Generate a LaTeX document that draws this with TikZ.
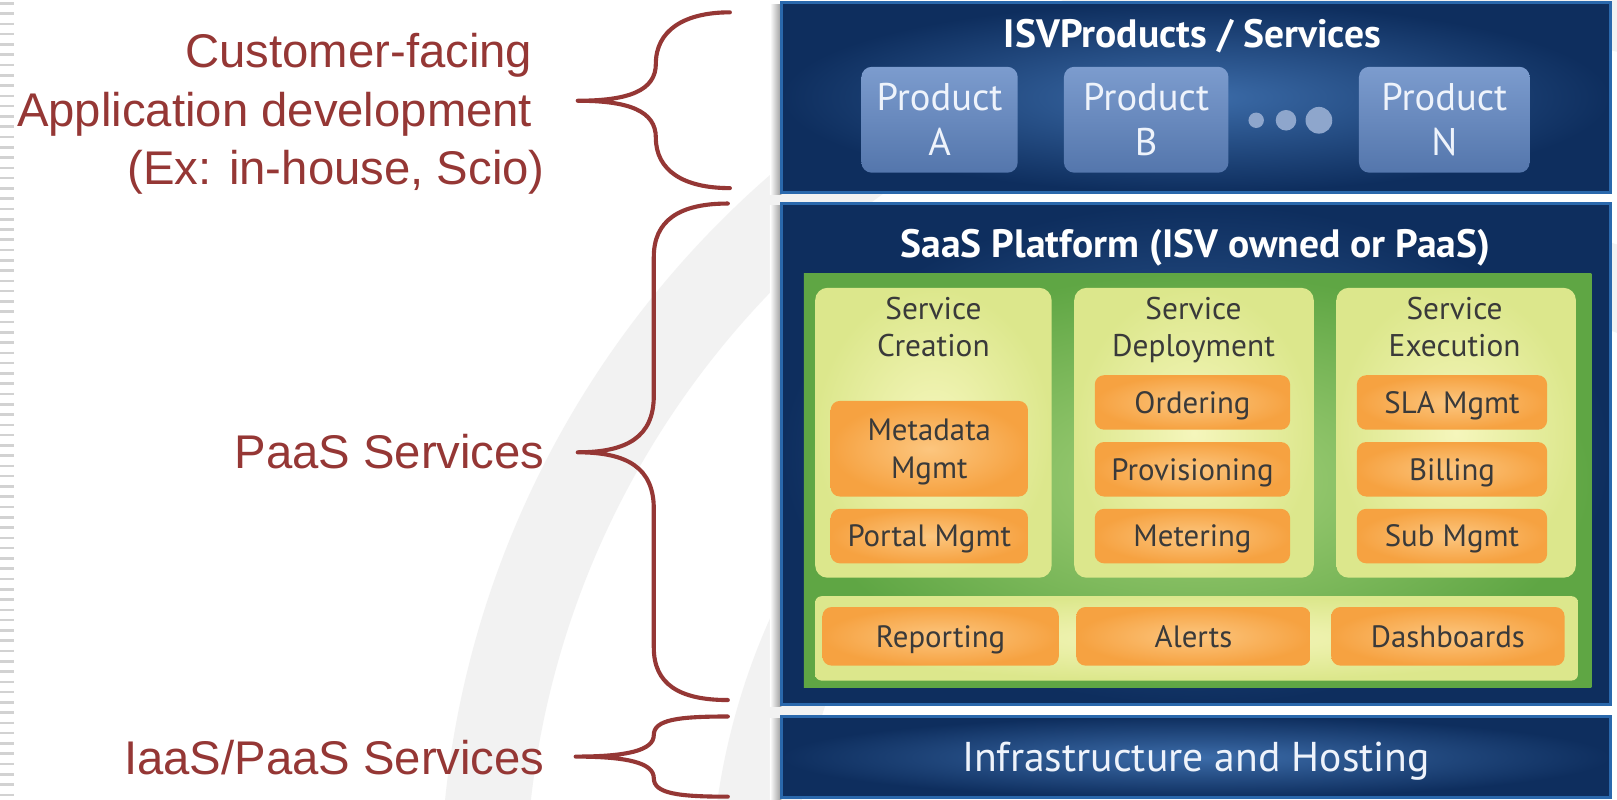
\documentclass[tikz,border=0pt]{standalone}
\usepackage{fontspec}
\setmainfont{Liberation Sans}
\newfontfamily\diagfont{PT Sans}
\newcommand\mycs{\rule[-0.233em]{0pt}{1.167em}}
\definecolor{brace}{HTML}{953735}
\definecolor{arcgray}{HTML}{F2F2F2}
\definecolor{stripe}{HTML}{D2D2D2}
\definecolor{bin}{HTML}{3C6CA9}
\definecolor{bout}{HTML}{0E2E5E}
\definecolor{bedge}{HTML}{2A68AC}
\definecolor{ptop}{HTML}{7C9CCE}
\definecolor{pbot}{HTML}{5476AC}
\definecolor{gin}{HTML}{A6D27B}
\definecolor{gout}{HTML}{5FA644}
\definecolor{yin}{HTML}{F5F6BC}
\definecolor{yout}{HTML}{DCE78C}
\definecolor{oin}{HTML}{FCC67F}
\definecolor{oout}{HTML}{F6A241}
\definecolor{dtext}{HTML}{3A3A3A}
\definecolor{dotc}{HTML}{8EA6CC}
\definecolor{ltext}{HTML}{EEF3FB}
\definecolor{shadowc}{HTML}{9A9A9A}
\begin{document}
\begin{tikzpicture}[x=1pt,y=-1pt,
  lbl/.style={text=brace, font=\fontsize{46}{52}\selectfont, inner sep=0pt, anchor=base east},
  brc/.style={draw=brace, line width=4pt, line cap=round, line join=round},
  bluebox/.style={draw=bedge, line width=3pt, inner color=bin, outer color=bout, inner sep=0pt},
  prod/.style={rounded corners=10pt, top color=ptop, bottom color=pbot, inner sep=0pt, text=ltext, font=\diagfont\fontsize{37.5}{44}\selectfont, align=center},
  greenbox/.style={inner color=gin, outer color=gout, inner sep=0pt},
  panel/.style={rounded corners=12pt, inner color=yin, outer color=yout, inner sep=0pt},
  obox/.style={rounded corners=9pt, inner color=oin, outer color=oout, inner sep=0pt, text=dtext, font=\diagfont\fontsize{30}{37}\selectfont, align=center},
  ttl/.style={text=white, font=\diagfont\bfseries\fontsize{38.5}{42}\selectfont, inner sep=0pt},
  coltitle/.style={text=dtext, font=\diagfont\fontsize{30.5}{36}\selectfont, align=center, inner sep=0pt},
  dot/.style={circle, fill=dotc, inner sep=0pt},
  lshadow/.style={left color=white, right color=shadowc}
]
\useasboundingbox (0,0) rectangle (1573,778);
\fill[white] (0,0) rectangle (1573,778);
% watermark arcs
\begin{scope}
\clip (0,0) rectangle (1573,778);
\fill[arcgray, even odd rule] (1362,875) circle (934pt) (1362,875) circle (851pt);
\fill[arcgray, even odd rule] (1362,875) circle (671pt) (1362,875) circle (590pt);
\end{scope}
% left stripes
\draw[stripe, line width=14pt, dash pattern=on 2.5pt off 7.5pt] (7,2) -- (7,778);

% soft left shadows of the blue boxes
\shade[lshadow] (749,4) rectangle (760,189);
\shade[lshadow] (749,200) rectangle (760,687);
\shade[lshadow] (749,699) rectangle (760,778);

% diagram boxes
\node[bluebox, minimum width=807pt, minimum height=185pt] (top) at (1163.5,94.5) {};
\node[ttl] (ttlTop) at (1160,33) {ISVProducts / Services\mycs};
\node[prod, minimum width=152pt, minimum height=103pt] (prodA) at (914,116.5) {Product\mycs\\A\mycs};
\node[prod, minimum width=160pt, minimum height=103pt] (prodB) at (1115,116.5) {Product\mycs\\B\mycs};
\node[prod, minimum width=166pt, minimum height=103pt] (prodN) at (1405,116.5) {Product\mycs\\N\mycs};
\node[dot, minimum size=15pt] (dot1) at (1222,117) {};
\node[dot, minimum size=20pt] (dot2) at (1251,117) {};
\node[dot, minimum size=26pt] (dot3) at (1283,117) {};

\node[bluebox, minimum width=807pt, minimum height=487pt] (saas) at (1163.5,441.5) {};
\node[ttl] (ttlSaas) at (1163,237) {SaaS Platform (ISV owned or PaaS)\mycs};
\node[greenbox, minimum width=766pt, minimum height=403pt] (green) at (1165,467.5) {};

\node[panel, minimum width=230pt, minimum height=282pt] (col1) at (908,421) {};
\node[panel, minimum width=233pt, minimum height=282pt] (col2) at (1161.5,421) {};
\node[panel, minimum width=233pt, minimum height=282pt] (col3) at (1416.5,421) {};
\node[coltitle] (ct1) at (908,318) {Service\mycs\\Creation\mycs};
\node[coltitle] (ct2) at (1161,318) {Service\mycs\\Deployment\mycs};
\node[coltitle] (ct3) at (1415,318) {Service\mycs\\Execution\mycs};

\node[obox, minimum width=192pt, minimum height=93pt] (meta) at (904,436.5) {Metadata\mycs\\Mgmt\mycs};
\node[obox, minimum width=192pt, minimum height=53pt] (portal) at (904,521.5) {Portal Mgmt\mycs};
\node[obox, minimum width=190pt, minimum height=53pt] (order) at (1160,391.5) {Ordering\mycs};
\node[obox, minimum width=190pt, minimum height=53pt] (prov) at (1160,456.5) {Provisioning\mycs};
\node[obox, minimum width=190pt, minimum height=53pt] (meter) at (1160,521.5) {Metering\mycs};
\node[obox, minimum width=185pt, minimum height=53pt] (sla) at (1412.5,391.5) {SLA Mgmt\mycs};
\node[obox, minimum width=185pt, minimum height=53pt] (bill) at (1412.5,456.5) {Billing\mycs};
\node[obox, minimum width=185pt, minimum height=53pt] (sub) at (1412.5,521.5) {Sub Mgmt\mycs};

\node[panel, rounded corners=6pt, minimum width=742pt, minimum height=82pt] (bottom) at (1164,621) {};
\node[obox, minimum width=230pt, minimum height=57pt] (rep) at (915,619) {Reporting\mycs};
\node[obox, minimum width=228pt, minimum height=57pt] (alert) at (1161,619) {Alerts\mycs};
\node[obox, minimum width=227pt, minimum height=57pt] (dash) at (1408.5,619) {Dashboards\mycs};

\node[bluebox, minimum width=807pt, minimum height=79pt, text=ltext, font=\diagfont\fontsize{40.5}{44}\selectfont] (infra) at (1163.5,736.5) {Infrastructure and Hosting\mycs};

% labels
\node[lbl] (l1) at (518,66) {Customer-facing};
\node[lbl] (l2) at (518,123) {Application development};
\node[lbl] (l3) at (530,179) {(Ex: in-house, Scio)};
\node[lbl] (l4) at (530,456) {PaaS Services};
\node[lbl] (l5) at (530,753) {IaaS/PaaS Services};

% braces
\draw[brc] (710,12) .. controls (665,12) and (638,30) .. (638,62)
  .. controls (638,88) and (612,98) .. (562,98)
  .. controls (612,98) and (638,108) .. (638,134)
  .. controls (638,166) and (665,183) .. (710,183);
\draw[brc] (708,198) .. controls (660,198) and (636,215) .. (636,250) -- (636,385)
  .. controls (636,425) and (610,440) .. (562,440)
  .. controls (610,440) and (636,455) .. (636,495) -- (636,630)
  .. controls (636,665) and (660,681) .. (708,681);
\draw[brc] (708,697) .. controls (660,697) and (636,700) .. (636,715)
  .. controls (636,730) and (610,736) .. (560,736)
  .. controls (610,736) and (636,742) .. (636,757)
  .. controls (636,772) and (660,775) .. (708,775);
\end{tikzpicture}
\end{document}
